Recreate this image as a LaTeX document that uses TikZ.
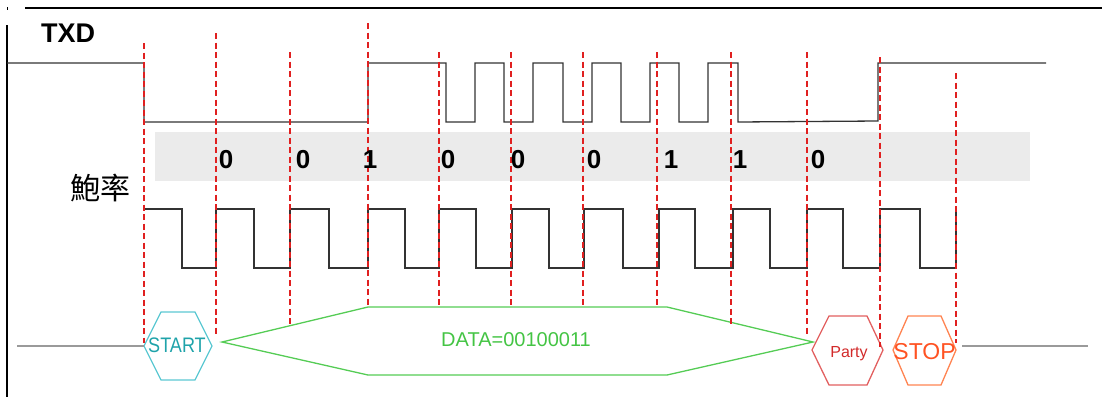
\documentclass[tikz,border=0pt]{standalone}
\usepackage{fontspec}
\setmainfont{Liberation Sans}
\newfontfamily\cjkfont{Noto Sans CJK SC}
\definecolor{sig}{HTML}{333333}
\definecolor{band}{HTML}{EBEBEB}
\definecolor{dashred}{HTML}{E02020}
\definecolor{startc}{HTML}{5CC8D2}
\definecolor{starttxt}{HTML}{1FA3AA}
\definecolor{datac}{HTML}{55CC55}
\definecolor{datatxt}{HTML}{44C444}
\definecolor{partyc}{HTML}{E26060}
\definecolor{partytxt}{HTML}{D22A2A}
\definecolor{stopc}{HTML}{FF8452}
\definecolor{stoptxt}{HTML}{FF5222}
\definecolor{idle}{HTML}{9A9A9A}
\tikzset{
  signal/.style={draw=sig, line width=1.3pt, line join=miter},
  bitline/.style={draw=dashred, line width=1.2pt, dash pattern=on 6pt off 3.5pt},
  bitlabel/.style={font=\fontsize{26}{26}\selectfont\bfseries, inner sep=0pt, anchor=base},
  hexline/.style={line width=1.3pt},
  idleline/.style={draw=idle, line width=1.3pt},
  frameline/.style={draw=black, line width=1.4pt}
}
\begin{document}
\begin{tikzpicture}[x=1pt,y=-1pt]
\useasboundingbox (0,0) rectangle (1102,397);
% frame
\coordinate (ftl) at (25,8); \coordinate (ftr) at (1102,8);
\coordinate (flt) at (7,25); \coordinate (flb) at (7,397);
\draw[frameline] (ftl) -- (ftr);
\draw[frameline] (flt) -- (flb);
\coordinate (dotA) at (7,7); \coordinate (dotB) at (7,9.5);
\draw[draw=black, line width=1pt] (dotA) -- (dotB);
% band
\fill[band] (155,132) rectangle (1030,181);
% labels
\node[font=\fontsize{27}{27}\selectfont\bfseries, inner sep=0pt, anchor=base west] (txd) at (41,42) {TXD};
\node[font=\cjkfont\fontsize{30}{30}\selectfont, inner sep=0pt] (baud) at (100,188) {鮑率};
% TXD signal
\coordinate (txs) at (7,63); \coordinate (txe) at (1046,63);
\draw[signal] (txs) -- (144,63) -- (144,122) -- (368,122) -- (368,63) -- (446,63)
  -- (446,122) -- (475,122) -- (475,63) -- (504,63) -- (504,122) -- (533,122)
  -- (533,63) -- (563,63) -- (563,122) -- (592,122) -- (592,63) -- (621,63)
  -- (621,122) -- (650,122) -- (650,63) -- (679,63) -- (679,122) -- (708,122)
  -- (708,63) -- (738,63) -- (738,122) -- (878,121) -- (878,63) -- (txe);
% clock signal
\coordinate (cks) at (144,209); \coordinate (cke) at (956,209);
\draw[signal] (cks) -- (182,209) -- (182,268) -- (216,268) -- (216,209)
  -- (254,209) -- (254,268) -- (290,268) -- (290,209)
  -- (329,209) -- (329,268) -- (368,268) -- (368,209)
  -- (405,209) -- (405,268) -- (439,268) -- (439,209)
  -- (476,209) -- (476,268) -- (512,268) -- (512,209)
  -- (549,209) -- (549,268) -- (584,268) -- (584,209)
  -- (623,209) -- (623,268) -- (659,268) -- (659,209)
  -- (695,209) -- (695,268) -- (733,268) -- (733,209)
  -- (770,209) -- (770,268) -- (807,268) -- (807,209)
  -- (843,209) -- (843,268) -- (880,268) -- (880,209)
  -- (920,209) -- (920,268) -- (956,268) -- (cke);
% hexagons and data shape
\coordinate (stL) at (144,346); \coordinate (stR) at (212,346);
\draw[hexline, draw=startc] (stL) -- (161,312) -- (195,312) -- (stR) -- (195,380) -- (161,380) -- cycle;
\coordinate (daL) at (222,342); \coordinate (daR) at (813,342);
\draw[hexline, draw=datac] (daL) -- (368,307) -- (667,307) -- (daR) -- (667,375) -- (368,375) -- cycle;
\coordinate (paL) at (812,350); \coordinate (paR) at (883,350);
\draw[hexline, draw=partyc] (paL) -- (829,316) -- (867,316) -- (paR) -- (867,385) -- (829,385) -- cycle;
\coordinate (spL) at (893,350); \coordinate (spR) at (956,350);
\draw[hexline, draw=stopc] (spL) -- (908,316) -- (941,316) -- (spR) -- (941,385) -- (908,385) -- cycle;
% idle lines
\coordinate (idl) at (17,346); \coordinate (idr1) at (962,346); \coordinate (idr2) at (1088,346);
\draw[idleline] (idl) -- (stL);
\draw[idleline] (idr1) -- (idr2);
% bit boundaries
\foreach \x/\ya/\yb in {144/43/343, 216/33/337, 290/52/325, 368/23/307, 439/52/307,
  511/52/307, 583/52/307, 657/52/307, 731/52/325, 807/52/337, 880/57/347, 956/73/343}
  \draw[bitline] (\x,\ya) -- (\x,\yb);
% bit values
\node[bitlabel] (b1) at (226,168) {0};
\node[bitlabel] (b2) at (303,168) {0};
\node[bitlabel] (b3) at (370,168) {1};
\node[bitlabel] (b4) at (448,168) {0};
\node[bitlabel] (b5) at (518,168) {0};
\node[bitlabel] (b6) at (594,168) {0};
\node[bitlabel] (b7) at (671,168) {1};
\node[bitlabel] (b8) at (740,168) {1};
\node[bitlabel] (b9) at (818,168) {0};
% texts in shapes
\node[inner sep=0pt, text=starttxt, font=\fontsize{21}{21}\selectfont] (start) at (177,345) {\scalebox{0.86}[1]{START}};
\node[inner sep=0pt, text=datatxt, font=\fontsize{20}{20}\selectfont] (data) at (516,340) {DATA=00100011};
\node[inner sep=0pt, text=partytxt, font=\fontsize{16}{16}\selectfont, anchor=base] (party) at (849,357) {Party};
\node[inner sep=0pt, text=stoptxt, font=\fontsize{23}{23}\selectfont] (stop) at (924.5,351.5) {STOP};
\end{tikzpicture}
\end{document}
